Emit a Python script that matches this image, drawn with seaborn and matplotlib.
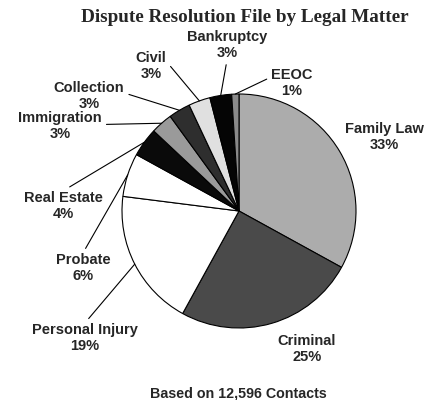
import numpy as np
import seaborn as sns
from matplotlib import pyplot as plt

categories = ['Family Law', 'Criminal', 'Personal Injury', 'Probate', 'Real Estate',
              'Immigration', 'Collection', 'Civil', 'Bankruptcy', 'EEOC']
shares = [33, 25, 19, 6, 4, 3, 3, 3, 3, 1]
total_contacts = '12,596'

sns.set_style('white')
plt.rcParams['font.family'] = ['Liberation Sans', 'DejaVu Sans']

W, H = 432, 400
fig = plt.figure(figsize=(W / 100, H / 100), dpi=100)
ax = fig.add_axes([0, 0, 1, 1])

colors = ['#acacac', '#4a4a4a', '#ffffff', '#ffffff', '#0a0a0a',
          '#9a9a9a', '#2e2e2e', '#e0e0e0', '#050505', '#8a8a8a']
cx, cy, r = 239, H - 211, 117
wedges, _ = ax.pie(shares, colors=colors, startangle=90, counterclock=False,
                   center=(cx, cy), radius=r, frame=True,
                   wedgeprops=dict(edgecolor='black', linewidth=0.8))
ax.set_xlim(0, W)
ax.set_ylim(0, H)
ax.set_aspect('equal')
ax.axis('off')

# label layout in image pixels (x, y from top), relpos of leader start or None
layout = {
    'Family Law': ((384, 137), None),
    'Criminal': ((307, 349), None),
    'Personal Injury': ((85, 338), (0.5, 1.0)),
    'Probate': ((83, 268), (0.5, 1.0)),
    'Real Estate': ((63, 206), (0.5, 1.0)),
    'Immigration': ((60, 126), (1.0, 0.55)),
    'Collection': ((89, 96), (1.0, 0.6)),
    'Civil': ((151, 66), (1.0, 0.65)),
    'Bankruptcy': ((227, 45), (0.5, 0.0)),
    'EEOC': ((292, 83), (0.0, 0.7)),
}

for w, name, pct in zip(wedges, categories, shares):
    (tx, ty), rel = layout[name]
    mid = np.deg2rad((w.theta1 + w.theta2) / 2)
    px, py = cx + r * np.cos(mid), cy + r * np.sin(mid)
    label = f'{name}\n{pct}%'
    if rel is None:
        ax.text(tx, H - ty, label, ha='center', va='center', fontsize=10.5,
                fontweight='bold', linespacing=1.2)
    else:
        ax.annotate(label, xy=(px, py), xytext=(tx, H - ty), ha='center', va='center',
                    fontsize=10.5, fontweight='bold', linespacing=1.2,
                    arrowprops=dict(arrowstyle='-', color='black', lw=0.8,
                                    relpos=rel, shrinkA=1, shrinkB=0))

ax.text(245, H - 18, 'Dispute Resolution File by Legal Matter', ha='center', va='center',
        fontsize=13.8, fontweight='bold', family=['Liberation Serif', 'DejaVu Serif'])
ax.text(238, H - 393, f'Based on {total_contacts} Contacts', ha='center', va='center',
        fontsize=10.3, fontweight='bold')

fig.savefig('out.png', dpi=100)
